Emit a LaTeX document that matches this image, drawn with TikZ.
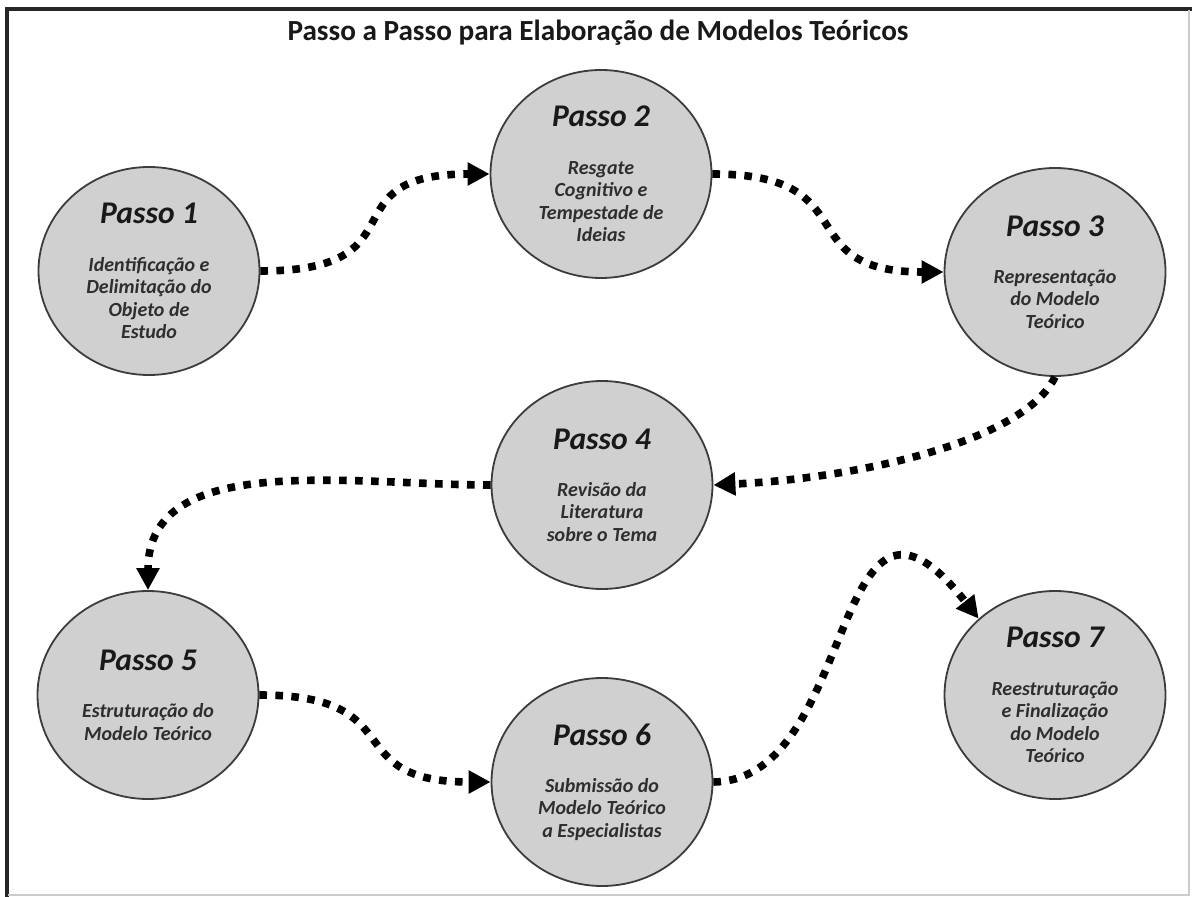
\documentclass[tikz,border=0pt]{standalone}
\usepackage{fontspec}
\setmainfont{Carlito}
\usetikzlibrary{arrows.meta, shapes.geometric}
\definecolor{cfill}{HTML}{D0D0D0}
\definecolor{cline}{HTML}{3C3C3C}
\definecolor{ctext}{HTML}{2E2E2E}
\tikzset{
  every picture/.style={line width=0.8pt},
  passo/.style={ellipse, draw=cline, fill=cfill, line width=0.9pt, minimum width=110.5pt, minimum height=104pt,
    inner sep=0pt, align=center, text=ctext, font=\bfseries\itshape\fontsize{10}{11.2}\selectfont},
  flow/.style={-{Triangle[length=11pt, width=11pt]}, draw=black, line width=3.8pt, dash pattern=on 3.8pt off 4.2pt},
  heading/.style={font=\bfseries\fontsize{14.6}{17}\selectfont, text=black!90},
}
\newcommand{\passoname}[1]{{\fontsize{15.8}{18}\selectfont\color{black!90}Passo #1}\\[12.5pt]}

\begin{document}
\begin{tikzpicture}[x=0.5pt, y=-0.5pt]
  \useasboundingbox (0,0) rectangle (1192,897);
  % frame
  \draw[line width=2pt, black!85] (7,897) -- (7,9) -- (1192,9);
  \draw[line width=0.8pt, black!20] (1189,10) -- (1189,895) -- (8,895);
  \node[heading] (title) at (598,33) {Passo a Passo para Elaboração de Modelos Teóricos};
  % the seven steps
  \node[passo] (p1) at (149,271) {\passoname{1}Identificação e\\Delimitação do\\Objeto de\\Estudo};
  \node[passo] (p2) at (601,174) {\passoname{2}Resgate\\Cognitivo e\\Tempestade de\\Ideias};
  \node[passo] (p3) at (1055,272) {\passoname{3}Representação\\do Modelo\\Teórico};
  \node[passo] (p4) at (602,485) {\passoname{4}Revisão da\\Literatura\\sobre o Tema};
  \node[passo] (p5) at (148,695) {\passoname{5}Estruturação do\\Modelo Teórico};
  \node[passo] (p6) at (602,782) {\passoname{6}Submissão do\\Modelo Teórico\\a Especialistas};
  \node[passo] (p7) at (1055,695) {\passoname{7}Reestruturação\\e Finalização\\do Modelo\\Teórico};
  % connectors
  \draw[flow] (p1.east) to[out=0, in=180, looseness=1.7] (p2.west);
  \draw[flow] (p2.east) to[out=0, in=180, looseness=1.6] (p3.west);
  \draw[flow] (p3.south) .. controls (1025,440) and (863,478) .. (p4.east);
  \draw[flow] (p4.west) to[out=180, in=90] (p5.north);
  \draw[flow] (p5.east) to[out=0, in=180, looseness=1.6] (p6.west);
  \draw[flow] (p6.east) .. controls (860,780) and (830,430) .. (p7.135);
\end{tikzpicture}
\end{document}
